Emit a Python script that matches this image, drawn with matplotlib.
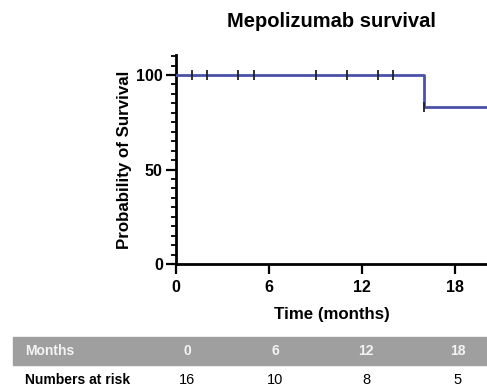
import numpy as np
import matplotlib
matplotlib.use('Agg')
from matplotlib import pyplot as plt
from matplotlib.patches import Rectangle
from matplotlib.ticker import MultipleLocator

plt.rcParams['font.family'] = ['Liberation Sans', 'DejaVu Sans']

# survival curve (step after each time)
step_times = [0, 16, 20.1]
step_surv = [100, 83.3, 83.3]
# censored observations
censor_times = [1, 2, 4, 5, 9, 11, 13, 14, 16]
censor_surv = [100, 100, 100, 100, 100, 100, 100, 100, 83.3]

# numbers at risk table
table_months = [0, 6, 12, 18]
table_at_risk = [16, 10, 8, 5]

W, H = 487, 392
fig = plt.figure(figsize=(W / 100, H / 100), dpi=100)
ax = fig.add_axes([176 / W, 1 - 264 / H, 1 - 176 / W, (264 - 55) / H])

line_col = '#4a52a8'
ax.step(step_times, step_surv, where='post', color=line_col, lw=2, zorder=3)
ax.plot(censor_times, censor_surv, linestyle='none', marker='|', ms=6.5,
        mew=1.3, color='#222222', zorder=4)

ax.set_xlim(0, 20.06)
ax.set_ylim(0, 110.6)
ax.set_xticks([0, 6, 12, 18])
ax.set_yticks([0, 50, 100])
ax.yaxis.set_minor_locator(MultipleLocator(5))
ax.spines['top'].set_visible(False)
ax.spines['right'].set_visible(False)
for s in ['left', 'bottom']:
    ax.spines[s].set_linewidth(2)
ax.tick_params(which='major', direction='out', length=7, width=1.6,
               labelsize=11.5, pad=2.5)
ax.tick_params(axis='x', which='major', pad=4.5)
ax.tick_params(which='minor', direction='out', length=3.5, width=1.3)
for lab in ax.get_xticklabels() + ax.get_yticklabels():
    lab.set_fontweight('bold')

ax.set_ylabel('Probability of Survival', fontsize=12.2, fontweight='bold',
              labelpad=3)
ax.set_xlabel('Time (months)', fontsize=12.2, fontweight='bold', labelpad=8.5)
ax.set_title('Mepolizumab survival', fontsize=14.5, fontweight='bold', pad=20)

# table below the chart, in figure pixel coordinates
def fx(px):
    return px / W

def fy(py):
    return 1 - py / H

fig.patches.append(Rectangle((fx(13), fy(365)), fx(W) - fx(13), (365 - 337) / H,
                             transform=fig.transFigure, color='#9f9f9f',
                             zorder=0))
col_x = [187, 275, 366, 458]
fig.text(fx(25), fy(351), 'Months', color='#f4f4f4', fontsize=10,
         fontweight='bold', va='center', ha='left')
fig.text(fx(25), fy(380), 'Numbers at risk', color='black', fontsize=10,
         fontweight='bold', va='center', ha='left')
for x, m, n in zip(col_x, table_months, table_at_risk):
    fig.text(fx(x), fy(351), str(m), color='#f4f4f4', fontsize=10,
             fontweight='bold', va='center', ha='center')
    fig.text(fx(x), fy(380), str(n), color='black', fontsize=10.5,
             va='center', ha='center')

plt.savefig('out.png', dpi=100)
plt.close()
